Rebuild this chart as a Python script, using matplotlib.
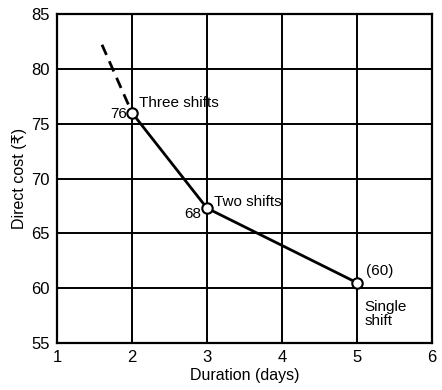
import matplotlib
matplotlib.use("Agg")
import matplotlib.pyplot as plt

durations = [2, 3, 5]
costs = [76, 67.3, 60.5]
value_labels = ["76", "68", "(60)"]
shift_labels = ["Three shifts", "Two shifts", "Single\nshift"]
ext_x = [1.6, 2]
ext_y = [82.2, 76]
xticks = [1, 2, 3, 4, 5, 6]
yticks = [55, 60, 65, 70, 75, 80, 85]

plt.rcParams['font.family'] = ['Liberation Sans', 'DejaVu Sans']

fig = plt.figure(figsize=(4.42, 3.9), dpi=100)
ax = fig.add_axes([0.129, 0.1205, 0.848, 0.8435])
ax.set_xlim(1, 6)
ax.set_ylim(55, 85)
ax.set_xticks(xticks)
ax.set_yticks(yticks)
ax.tick_params(length=0, labelsize=12, pad=5)
ax.grid(True, color='black', linewidth=1.4)
ax.set_axisbelow(True)
for s in ax.spines.values():
    s.set_linewidth(1.6)

ax.plot(ext_x, ext_y, color='black', lw=2, ls=(0, (4, 2.5)), zorder=3)
ax.plot(durations, costs, color='black', lw=2, marker='o', ms=7.5,
        mfc='white', mec='black', mew=1.5, zorder=4)

fs = 11
ax.text(1.93, 75.9, value_labels[0], ha='right', va='center', fontsize=fs)
ax.text(2.1, 76.9, shift_labels[0], ha='left', va='center', fontsize=fs)
ax.text(2.93, 66.8, value_labels[1], ha='right', va='center', fontsize=fs)
ax.text(3.1, 67.9, shift_labels[1], ha='left', va='center', fontsize=fs)
ax.text(5.12, 61.6, value_labels[2], ha='left', va='center', fontsize=fs)
ax.text(5.1, 57.6, shift_labels[2], ha='left', va='center', fontsize=fs,
        linespacing=1.0)

ax.set_xlabel("Duration (days)", fontsize=11.5, labelpad=2)
ax.set_ylabel("Direct cost (₹)", fontsize=11.5, labelpad=3)

fig.savefig("out.png", dpi=100)
